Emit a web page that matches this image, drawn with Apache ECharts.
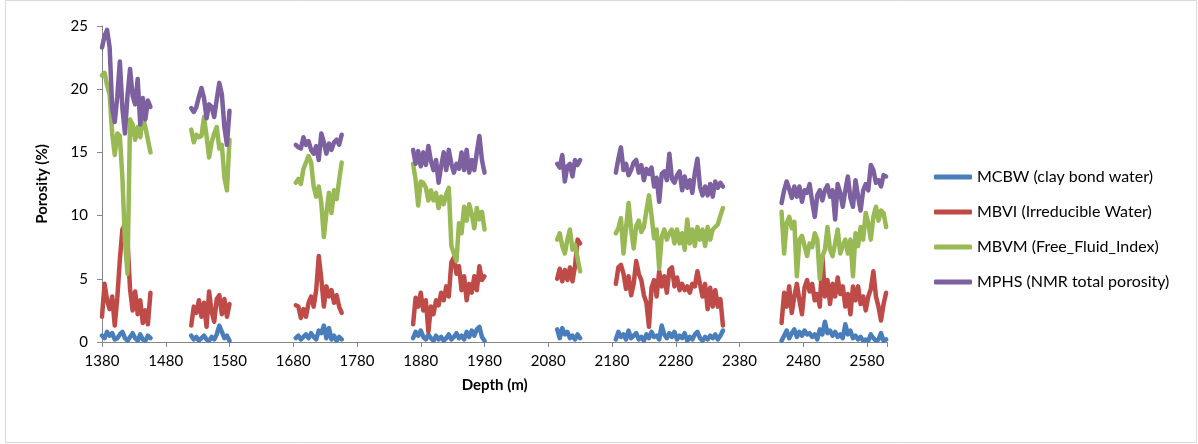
<!DOCTYPE html>
<html>
<head>
<meta charset="utf-8">
<script src="https://cdn.jsdelivr.net/npm/echarts@6/dist/echarts.min.js"></script>
<style>
  html, body { margin: 0; padding: 0; background: #fff; }
  #chart { width: 1198px; height: 444px; }
</style>
</head>
<body>
<div id="chart"></div>
<script>
// depth intervals logged (m), sampled every 4 m
var depthStart = [1380, 1520, 1684, 1868, 2094, 2186, 2446]
var depthStep = 4

var seriesNames = [
  'MCBW (clay bond water)',
  'MBVI (Irreducible Water)',
  'MBVM (Free_Fluid_Index)',
  'MPHS (NMR total porosity)'
]

// one inner array per depth interval
var mcbw = [
  [0.5, 0.3, 0.8, 0.5, 0.7, 0.2, 0.3, 0.6, 0.8, 0.3, 0.1, 0.4, 0.7, 0.3, 0.1, 0.6, 0.2, 0.1, 0.5, 0.3],
  [0.5, 0.2, 0.4, 0.1, 0.3, 0.5, 0.2, 0.1, 0.4, 0.2, 0.6, 1.3, 0.8, 0.3, 0.5, 0.1],
  [0.3, 0.5, 0.2, 0.4, 0.6, 0.3, 0.7, 0.4, 0.2, 0.9, 0.7, 1.3, 0.3, 1.1, 0.2, 0.5, 0.1, 0.4, 0.2],
  [0.3, 0.8, 0.5, 0.9, 0.4, 0.2, 0.6, 0.3, 0.1, 0.5, 0.2, 0.4, 0.1, 0.3, 0.6, 0.2, 0.4, 0.7, 0.3, 0.5,
   0.2, 0.8, 0.4, 0.9, 0.5, 1.0, 1.2, 0.4, 0.1],
  [1.0, 0.3, 1.1, 0.6, 0.8, 0.3, 0.5, 0.2, 0.6, 0.3],
  [0.2, 0.8, 0.4, 0.6, 0.2, 0.9, 0.3, 0.5, 0.7, 0.2, 0.4, 0.1, 0.6, 0.3, 0.8, 0.4, 0.5, 0.2, 1.3, 0.6,
   0.3, 0.7, 0.4, 0.8, 0.2, 0.5, 0.3, 0.7, 0.1, 0.4, 0.2, 0.6, 0.8, 0.3, 0.1, 0.4, 0.2, 0.5, 0.3, 0.6,
   0.2, 0.5, 0.9],
  [0.1, 0.5, 0.9, 0.3, 0.7, 1.0, 0.4, 0.8, 0.5, 0.9, 0.6, 0.7, 0.4, 0.6, 0.2, 1.0, 0.6, 1.6, 0.7, 0.9,
   0.5, 0.8, 0.4, 0.6, 0.3, 1.4, 0.6, 0.9, 0.3, 0.5, 0.2, 0.4, 0.1, 0.2, 0.1, 0.6, 0.3, 0.1, 0.2, 0.7,
   0.1, 0.2]
]

var mbvi = [
  [2.0, 4.6, 3.3, 2.6, 3.6, 1.3, 3.5, 6.5, 8.9, 9.3, 8.0, 4.2, 2.5, 4.0, 2.2, 3.3, 1.5, 2.5, 1.4, 3.9],
  [1.3, 2.8, 2.3, 3.3, 2.0, 3.1, 1.2, 4.0, 2.4, 1.6, 3.4, 3.7, 2.2, 3.4, 2.0, 3.0],
  [2.9, 2.8, 1.9, 2.6, 2.0, 3.1, 3.6, 2.8, 4.1, 6.8, 5.0, 2.8, 4.4, 3.6, 4.1, 3.1, 3.7, 2.8, 2.3],
  [1.4, 3.5, 2.8, 3.9, 2.5, 3.3, 0.8, 2.8, 2.2, 3.3, 2.9, 3.9, 3.3, 4.4, 3.6, 6.3, 6.7, 5.4, 6.0, 4.1,
   5.2, 3.3, 4.6, 3.9, 5.2, 4.1, 6.0, 4.9, 5.2],
  [5.0, 5.8, 4.8, 5.7, 4.9, 5.9, 4.8, 6.0, 8.1, 7.8],
  [4.6, 5.9, 6.1, 5.4, 4.2, 5.2, 3.7, 4.6, 6.4, 5.4, 4.9, 3.7, 3.1, 1.2, 4.3, 4.9, 3.6, 5.6, 4.4, 5.2,
   3.9, 5.7, 5.9, 4.4, 5.1, 4.1, 4.6, 4.1, 4.4, 3.9, 4.6, 4.4, 5.6, 4.6, 3.6, 4.6, 2.6, 4.3, 2.8, 4.1,
   2.8, 3.4, 1.3],
  [1.5, 3.9, 2.8, 4.4, 2.3, 3.6, 4.6, 3.3, 2.2, 4.3, 4.9, 4.0, 4.6, 3.3, 3.8, 2.8, 6.8, 3.6, 4.9, 3.0,
   4.6, 3.6, 5.1, 3.8, 4.4, 2.8, 3.8, 2.2, 4.4, 3.3, 4.4, 3.0, 3.6, 2.5, 3.6, 4.2, 5.6, 3.6, 2.8, 1.7,
   3.0, 3.9]
]

var mbvm = [
  [21.1, 21.3, 20.3, 19.6, 16.5, 14.8, 16.5, 16.3, 13.0, 8.0, 5.4, 17.6, 17.2, 16.0, 17.0, 16.2, 17.8, 17.0, 16.0, 15.0],
  [16.8, 15.8, 16.4, 16.2, 16.3, 17.8, 16.3, 14.6, 15.8, 16.5, 17.0, 15.3, 15.6, 13.0, 12.0, 16.0],
  [12.6, 12.9, 12.5, 13.7, 14.2, 14.7, 14.2, 12.3, 11.5, 12.3, 11.0, 8.3, 10.2, 11.8, 10.2, 12.0, 11.3, 12.8, 14.2],
  [14.1, 12.8, 10.8, 12.7, 12.6, 12.2, 11.2, 12.0, 11.2, 11.8, 10.6, 11.5, 10.9, 11.7, 12.2, 7.6, 7.0, 6.4, 9.4, 8.6,
   10.7, 9.6, 10.9, 10.1, 9.0, 10.6, 9.7, 10.3, 8.9],
  [8.1, 8.6, 7.6, 7.0, 8.1, 8.9, 7.3, 7.7, 6.6, 5.6],
  [8.6, 9.0, 9.8, 7.0, 9.0, 11.0, 8.9, 7.4, 9.2, 9.6, 8.7, 9.1, 10.4, 11.6, 10.0, 8.2, 8.9, 5.8, 8.3, 8.9,
   8.1, 8.6, 8.9, 7.8, 8.9, 7.8, 8.6, 7.3, 9.7, 7.8, 8.9, 7.6, 9.1, 8.1, 8.9, 7.6, 9.1, 8.1, 8.9, 9.1,
   9.3, 10.0, 10.6],
  [10.3, 7.0, 9.4, 9.9, 9.0, 9.5, 5.2, 8.1, 8.4, 7.6, 6.8, 7.8, 7.5, 8.6, 8.1, 5.0, 6.8, 7.3, 9.1, 7.3,
   6.8, 7.8, 8.9, 7.0, 7.6, 8.1, 7.0, 8.1, 5.2, 8.6, 7.6, 9.1, 8.1, 10.2, 9.4, 8.1, 9.9, 10.7, 9.6, 10.4,
   10.2, 9.1]
]

var mphs = [
  [23.3, 24.2, 24.7, 23.3, 18.5, 17.4, 19.4, 22.2, 18.5, 16.5, 19.5, 21.6, 19.5, 18.8, 20.8, 17.2, 19.3, 17.6, 19.1, 18.6],
  [18.5, 18.2, 18.6, 19.4, 20.1, 19.3, 17.7, 18.8, 18.6, 17.8, 19.2, 20.5, 19.6, 17.0, 15.6, 18.3],
  [15.6, 15.4, 15.3, 16.2, 15.6, 15.9, 15.2, 14.9, 15.5, 14.4, 16.5, 15.8, 14.9, 15.7, 15.2, 15.8, 16.0, 15.6, 16.4],
  [15.2, 14.1, 15.1, 13.9, 15.0, 14.0, 15.5, 14.3, 13.6, 14.4, 12.6, 13.9, 15.0, 13.6, 15.2, 14.1, 13.4, 14.1, 13.7, 15.0,
   13.6, 15.2, 13.4, 14.4, 13.6, 15.0, 16.3, 14.4, 13.4],
  [14.1, 13.8, 14.8, 12.7, 13.9, 14.1, 13.1, 14.4, 14.0, 14.4],
  [13.4, 14.5, 15.4, 13.6, 14.1, 13.2, 13.6, 14.2, 14.4, 13.4, 14.0, 12.8, 13.7, 13.3, 13.8, 12.3, 13.0, 11.1, 13.3, 13.5,
   12.8, 14.9, 12.9, 12.6, 13.2, 13.5, 12.0, 13.1, 12.2, 12.8, 11.8, 13.4, 14.5, 12.3, 11.6, 12.3, 11.6, 12.5, 11.5, 12.7,
   12.2, 12.6, 12.3],
  [11.0, 12.0, 12.7, 12.1, 11.4, 12.3, 11.5, 12.3, 11.1, 12.0, 11.8, 12.5, 11.1, 9.9, 11.6, 12.0, 11.2, 12.0, 12.4, 11.5,
   12.0, 9.7, 12.5, 11.8, 10.7, 12.0, 13.1, 11.4, 10.7, 12.8, 11.5, 10.4, 12.0, 12.5, 12.0, 14.0, 13.6, 12.6, 12.8, 12.3,
   13.2, 13.1]
]

var colors = ['#4A7EBB', '#BE4B48', '#98B954', '#7D60A0']

// join the intervals, with a break between them so the line is not drawn across gaps
function buildData(segs) {
  var out = []
  segs.forEach(function (vals, s) {
    if (s > 0) out.push([depthStart[s] - 1, '-'])
    vals.forEach(function (v, i) {
      out.push([depthStart[s] + i * depthStep, v])
    })
  })
  return out
}

var chart = echarts.init(document.getElementById('chart'))
var font = 'Lato, "Open Sans", sans-serif'

var option = {
  animation: false,
  color: colors,
  textStyle: { fontFamily: font },
  graphic: [{
    type: 'rect',
    shape: { x: 5.5, y: 0.5, width: 1191, height: 442 },
    style: { fill: 'none', stroke: '#d9d9d9', lineWidth: 1 },
    silent: true
  }],
  grid: { left: 102, right: 310.6, top: 26, bottom: 102 },
  legend: {
    orient: 'vertical',
    left: 929,
    top: 163,
    icon: 'roundRect',
    itemWidth: 38,
    itemHeight: 5,
    itemGap: 17,
    textStyle: { fontFamily: font, fontSize: 16, lineHeight: 18, color: '#000' },
    data: seriesNames
  },
  xAxis: {
    type: 'value',
    min: 1380,
    max: 2612,
    interval: 100,
    name: 'Depth (m)',
    nameLocation: 'middle',
    nameGap: 36,
    nameTextStyle: { fontFamily: font, fontSize: 15, fontWeight: 'bold', color: '#000' },
    axisLine: { lineStyle: { color: '#868686', width: 1 } },
    axisTick: { show: true, length: 5, lineStyle: { color: '#868686' } },
    axisLabel: {
      fontFamily: font, fontSize: 15, color: '#000', margin: 12,
      formatter: function (v) { return (v - 1380) % 100 === 0 ? String(v) : '' }
    },
    splitLine: { show: false }
  },
  yAxis: {
    type: 'value',
    min: 0,
    max: 25,
    interval: 5,
    name: 'Porosity (%)',
    nameLocation: 'middle',
    nameGap: 52,
    nameTextStyle: { fontFamily: font, fontSize: 15, fontWeight: 'bold', color: '#000' },
    axisLine: { show: true, lineStyle: { color: '#868686', width: 1 } },
    axisTick: { show: true, length: 5, lineStyle: { color: '#868686' } },
    axisLabel: { fontFamily: font, fontSize: 15, color: '#000', margin: 14 },
    splitLine: { show: false }
  },
  series: [mcbw, mbvi, mbvm, mphs].map(function (segs, k) {
    return {
      name: seriesNames[k],
      type: 'line',
      data: buildData(segs),
      symbol: 'none',
      connectNulls: false,
      lineStyle: { width: 4.5, color: colors[k], cap: 'round', join: 'round' },
      itemStyle: { color: colors[k] }
    }
  })
}

chart.setOption(option)
</script>
</body>
</html>
